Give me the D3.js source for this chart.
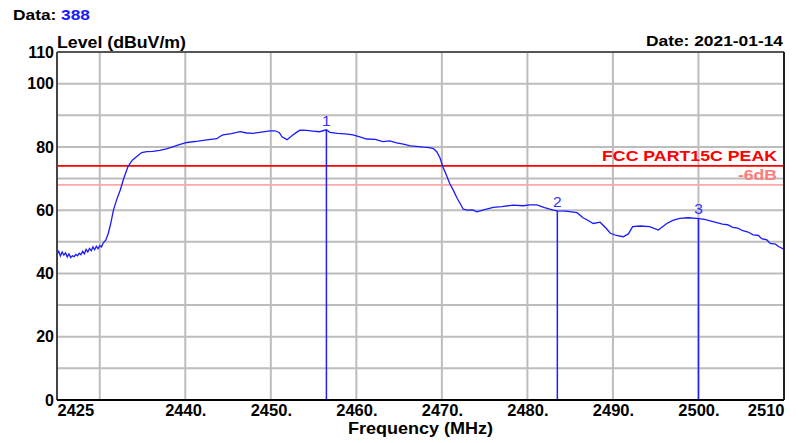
<!DOCTYPE html>
<html>
<head>
<meta charset="utf-8">
<script src="https://cdn.jsdelivr.net/npm/d3@7"></script>
<style>
html,body{margin:0;padding:0;background:#fff;}
svg{display:block;font-family:"Liberation Sans",Arial,sans-serif;}
</style>
</head>
<body>
<svg id="chart" width="798" height="443"></svg>
<script>
// ---- data ----
const freqs = [2425.0,2425.2,2425.4,2425.6,2425.8,2426.0,2426.2,2426.4,2426.6,2426.8,2427.0,2427.2,2427.4,2427.6,2427.8,2428.0,2428.2,2428.4,2428.6,2428.8,2429.0,2429.2,2429.4,2429.6,2429.8,2430.0,2430.2,2430.4,2430.7,2431.0,2431.3,2431.6,2432.0,2432.4,2432.8,2433.3,2433.8,2434.3,2434.9,2435.5,2436.2,2437.0,2437.8,2438.6,2439.4,2440.2,2441.5,2442.5,2443.7,2444.0,2444.4,2445.4,2446.4,2447.2,2447.9,2448.9,2449.9,2450.5,2451.0,2451.3,2451.9,2452.5,2453.0,2453.4,2454.2,2454.9,2455.7,2456.5,2456.9,2457.8,2458.7,2459.6,2460.4,2461.2,2462.2,2463.1,2463.9,2464.7,2465.5,2466.3,2467.0,2467.8,2468.5,2469.0,2469.4,2469.8,2470.1,2470.5,2470.9,2471.3,2471.8,2472.2,2472.5,2473.0,2473.6,2474.1,2475.0,2476.0,2477.0,2478.3,2479.5,2480.3,2481.1,2482.0,2483.0,2483.5,2484.5,2485.8,2486.5,2487.0,2487.7,2488.5,2489.2,2489.7,2490.4,2491.2,2491.8,2492.3,2493.2,2494.3,2495.3,2496.3,2497.0,2497.8,2498.8,2499.8,2500.7,2501.7,2502.8,2503.4,2504.0,2504.6,2505.2,2505.8,2506.4,2507.0,2507.4,2508.0,2508.4,2509.0,2509.3,2509.6,2510.0];
const levels = [46.0,47.0,45.5,46.8,45.8,46.5,45.2,46.2,45.0,45.6,45.3,46.0,45.6,46.4,45.9,47.0,46.2,47.6,46.8,47.9,47.2,48.4,47.5,48.6,47.8,48.8,48.4,49.6,50.5,52.7,56.0,60.0,63.5,66.4,70.0,73.8,75.8,76.9,78.2,78.5,78.6,78.9,79.4,80.1,80.8,81.4,81.8,82.2,82.6,83.2,83.8,84.2,84.8,84.4,84.3,84.7,85.1,85.1,84.5,83.2,82.3,83.6,84.6,85.3,85.2,85.0,84.8,85.4,84.6,84.3,84.1,83.8,83.2,82.5,82.4,81.7,81.9,81.3,80.9,80.3,80.2,79.9,79.8,79.5,78.5,76.4,73.8,71.3,68.5,66.5,63.7,61.8,60.3,60.0,60.1,59.5,60.2,60.9,61.1,61.6,61.4,61.7,61.7,60.8,60.0,59.8,59.7,59.2,57.6,56.9,55.8,56.2,54.3,52.7,52.0,51.6,52.5,54.8,55.0,54.8,53.7,55.8,56.8,57.4,57.6,57.4,57.1,56.4,55.6,55.4,54.6,54.3,53.5,53.1,52.2,52.0,51.0,50.6,49.5,49.3,48.6,48.2,47.6,47.8];
const markerLabels = ["1","2","3"];
const markerFreqs = [2456.5, 2483.5, 2500.0];
const markerLevels = [85.4, 59.8, 57.4];
const limitLevels = [74, 68];
const limitLabels = ["FCC PART15C PEAK", "-6dB"];
const yTickValues = [0,20,40,60,80,100,110];
const yGridValues = [10,20,30,40,50,60,70,80,90,100];
const xTickValues = [2425,2440,2450,2460,2470,2480,2490,2500,2510];
const xTickLabels = ["2425","2440.","2450.","2460.","2470.","2480.","2490.","2500.","2510"];
const xGridValues = [2430,2440,2450,2460,2470,2480,2490,2500];

// ---- layout ----
const L = 57, R = 784, T = 52, B = 400;
const svg = d3.select("#chart");
const x = d3.scaleLinear().domain([2425, 2510]).range([L, R]);
const y = d3.scaleLinear().domain([0, 110]).range([B, T]);

// grid
svg.append("g").selectAll("line").data(xGridValues).join("line")
  .attr("x1", d => x(d)).attr("x2", d => x(d)).attr("y1", T).attr("y2", B)
  .attr("stroke", "#bdbdbd").attr("stroke-width", 2);
svg.append("g").selectAll("line").data(yGridValues).join("line")
  .attr("x1", L).attr("x2", R).attr("y1", d => y(d)).attr("y2", d => y(d))
  .attr("stroke", "#bdbdbd").attr("stroke-width", 2);

// limit lines
const limitColors = ["#ff0000", "#ffa8a8"];
const limitTextColors = ["#ff0000", "#ff7a7a"];
const limitTextLen = [175, 39];
limitLevels.forEach((v, i) => {
  svg.append("line").attr("x1", L).attr("x2", R).attr("y1", y(v)).attr("y2", y(v))
    .attr("stroke", limitColors[i]).attr("stroke-width", 1.6);
  svg.append("text").attr("x", 777).attr("y", y(v) - 4.5).attr("text-anchor", "end")
    .attr("font-size", 15).attr("font-weight", "bold").attr("fill", limitTextColors[i])
    .attr("textLength", limitTextLen[i]).attr("lengthAdjust", "spacingAndGlyphs")
    .text(limitLabels[i]);
});

// trace
const pts = freqs.map((f, i) => [f, levels[i]]);
svg.append("path").datum(pts)
  .attr("fill", "none").attr("stroke", "#1a1aff").attr("stroke-width", 1.3)
  .attr("d", d3.line().x(d => x(d[0])).y(d => y(d[1])));

// markers
markerFreqs.forEach((f, i) => {
  svg.append("line").attr("x1", x(f)).attr("x2", x(f)).attr("y1", y(markerLevels[i])).attr("y2", B)
    .attr("stroke", "#2020ff").attr("stroke-width", 1.5);
  svg.append("text").attr("x", x(f)).attr("y", y(markerLevels[i]) - 4).attr("text-anchor", "middle")
    .attr("font-size", 15.5).attr("fill", "#3030ff").text(markerLabels[i]);
});

// frame
svg.append("line").attr("x1", L).attr("x2", R).attr("y1", T).attr("y2", T).attr("stroke", "#555").attr("stroke-width", 2);
svg.append("line").attr("x1", R).attr("x2", R).attr("y1", T).attr("y2", B).attr("stroke", "#222").attr("stroke-width", 2);
svg.append("line").attr("x1", L).attr("x2", L).attr("y1", T).attr("y2", B).attr("stroke", "#444").attr("stroke-width", 2);
svg.append("line").attr("x1", L).attr("x2", R).attr("y1", B).attr("y2", B).attr("stroke", "#000").attr("stroke-width", 2);

// y axis labels
const yAxis = d3.axisLeft(y).tickValues(yTickValues).tickSize(0).tickPadding(3).tickFormat(d3.format("d"));
const yg = svg.append("g").attr("transform", `translate(${L},0)`).call(yAxis);
yg.select(".domain").remove();
yg.selectAll("text").attr("font-size", 16).attr("font-weight", "bold").attr("fill", "#000")
  .attr("font-family", "Liberation Sans, Arial, sans-serif");

// x axis labels
const xAxis = d3.axisBottom(x).tickValues(xTickValues).tickSize(0).tickPadding(4)
  .tickFormat((d, i) => xTickLabels[i]);
const xg = svg.append("g").attr("transform", `translate(0,${B})`).call(xAxis);
xg.select(".domain").remove();
xg.selectAll("text").attr("font-size", 16.5).attr("font-weight", "bold").attr("fill", "#000")
  .attr("font-family", "Liberation Sans, Arial, sans-serif")
  .attr("text-anchor", (d, i) => i === 0 ? "start" : (i === xTickValues.length - 1 ? "end" : "middle"));

// titles
svg.append("text").attr("x", 13).attr("y", 20).attr("font-size", 15.5).attr("font-weight", "bold")
  .attr("textLength", 77).attr("lengthAdjust", "spacingAndGlyphs")
  .call(t => { t.append("tspan").attr("fill", "#000").text("Data: "); t.append("tspan").attr("fill", "#1a1aff").text("388"); });
svg.append("text").attr("x", 57).attr("y", 48).attr("font-size", 16.3).attr("font-weight", "bold").attr("fill", "#000")
  .attr("textLength", 129).attr("lengthAdjust", "spacingAndGlyphs").text("Level (dBuV/m)");
svg.append("text").attr("x", 783).attr("y", 45.5).attr("text-anchor", "end").attr("font-size", 15.5).attr("font-weight", "bold").attr("fill", "#000")
  .attr("textLength", 137).attr("lengthAdjust", "spacingAndGlyphs").text("Date: 2021-01-14");
svg.append("text").attr("x", 348).attr("y", 434).attr("font-size", 16.5).attr("font-weight", "bold").attr("fill", "#000")
  .attr("textLength", 145).attr("lengthAdjust", "spacingAndGlyphs").text("Frequency (MHz)");
</script>
</body>
</html>
